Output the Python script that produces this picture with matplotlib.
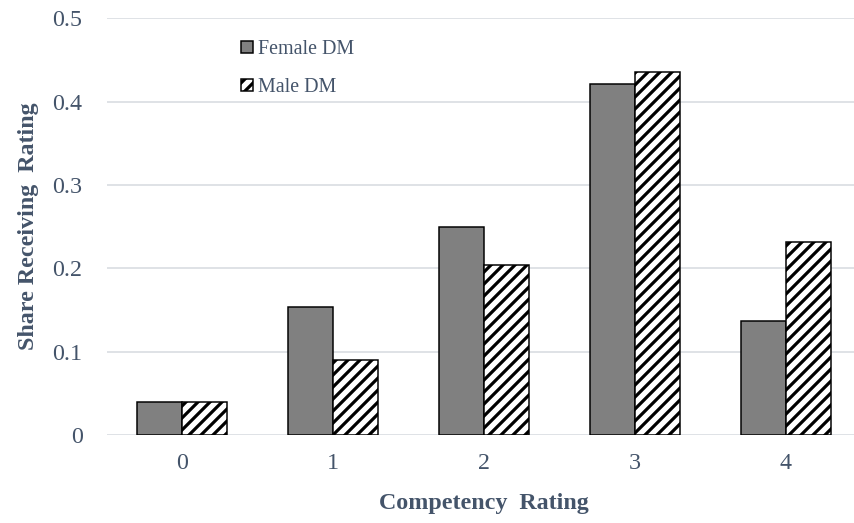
import numpy as np
import matplotlib
matplotlib.use("Agg")
import matplotlib.pyplot as plt

# share of candidates receiving each competency rating, by decision-maker gender
ratings = ["0", "1", "2", "3", "4"]
female_dm = [0.040, 0.153, 0.250, 0.421, 0.137]
male_dm = [0.040, 0.090, 0.204, 0.435, 0.232]
yticks = [0, 0.1, 0.2, 0.3, 0.4, 0.5]
ytick_labels = ["0", "0.1", "0.2", "0.3", "0.4", "0.5"]

TEXT = "#44546A"
GRID = "#DCDFE4"

plt.rcParams["font.family"] = ["Liberation Serif", "DejaVu Serif"]
plt.rcParams["hatch.linewidth"] = 3.2

# at 72 dpi one point is one pixel
W, H = 854, 523
fig = plt.figure(figsize=(W / 72, H / 72), dpi=72)
ax = fig.add_axes([106.5 / W, (H - 435) / H, 755 / W, (435 - 18.3) / H])

x = np.arange(len(ratings))
bw = 0.3
ax.bar(x - bw / 2, female_dm, bw, color="#808080", edgecolor="black",
       linewidth=1.5, label="Female DM", zorder=3)
ax.bar(x + bw / 2, male_dm, bw, color="white", edgecolor="black",
       linewidth=1.5, hatch="//", label="Male DM", zorder=3)

ax.set_xlim(-0.5, len(ratings) - 0.5)
ax.set_ylim(0, 0.5)
ax.set_xticks(x)
ax.set_xticklabels(ratings)
ax.set_yticks(yticks)
ax.set_yticklabels(ytick_labels)
ax.yaxis.grid(True, color=GRID, linewidth=1.8, zorder=0)
ax.set_axisbelow(True)
for s in ax.spines.values():
    s.set_visible(False)
ax.tick_params(axis="y", length=0, pad=24, labelsize=24, labelcolor=TEXT)
ax.tick_params(axis="x", length=0, pad=18, labelsize=24, labelcolor=TEXT)

ax.set_xlabel("Competency  Rating", fontsize=24, fontweight="bold",
              color=TEXT, labelpad=19)
ax.set_ylabel("Share Receiving  Rating", fontsize=24, fontweight="bold",
              color=TEXT, labelpad=13)

leg = ax.legend(loc="upper left", bbox_to_anchor=(241 / W, (H - 40) / H),
                bbox_transform=fig.transFigure, frameon=False, fontsize=20,
                handlelength=0.6, handleheight=0.6, handletextpad=0.25,
                labelspacing=0.95, borderpad=0, borderaxespad=0)
for t in leg.get_texts():
    t.set_color(TEXT)

fig.savefig("out.png", dpi=72, facecolor="white")
